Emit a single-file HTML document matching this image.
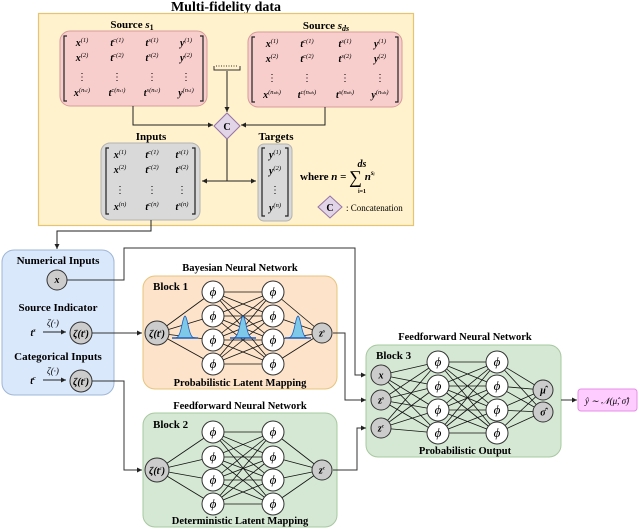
<!DOCTYPE html>
<html><head><meta charset="utf-8"><style>
html,body{margin:0;padding:0;background:#fff}
svg{display:block}
text{font-family:"Liberation Serif",serif}
.b{font-weight:bold}
.m{font-style:italic;font-weight:bold;font-size:10px}
</style></head><body>
<svg id="s" width="640" height="529" viewBox="0 0 640 529" xmlns="http://www.w3.org/2000/svg">
<defs>
<marker id="a" markerWidth="6" markerHeight="6" refX="5" refY="3" orient="auto" markerUnits="userSpaceOnUse"><path d="M0,0.5 L5,3 L0,5.5 z" fill="#222"/></marker>
</defs>
<text x="226" y="11" text-anchor="middle" class="b" font-size="14">Multi-fidelity data</text>
<rect x="38.5" y="13.5" width="375" height="212" fill="#fff2cc" stroke="#e6c472" stroke-width="1.2"/>
<rect x="60" y="31" width="147" height="75" rx="10" fill="#f8cecc" stroke="#d79b9b"/>
<rect x="248" y="32" width="154" height="75" rx="10" fill="#f8cecc" stroke="#d79b9b"/>
<rect x="101" y="143" width="99" height="77" rx="9" fill="#d9d9d9" stroke="#b3b3b3"/>
<rect x="258" y="144" width="34" height="77" rx="6" fill="#d9d9d9" stroke="#b3b3b3"/>
<text x="132" y="28" text-anchor="middle" class="b" font-size="11">Source <tspan font-style="italic">s</tspan><tspan font-size="8" dy="2">1</tspan></text>
<text x="326" y="29" text-anchor="middle" class="b" font-size="11">Source <tspan font-style="italic">s</tspan><tspan font-size="8" dy="2" font-style="italic">ds</tspan></text>
<g id="mats"></g>
<path d="M214,66 v4 h26 v-4" fill="none" stroke="#333"/>
<path d="M216,66 h22" stroke="#333" stroke-dasharray="1,1.5"/>
<path d="M227,71 V112" stroke="#222" fill="none" marker-end="url(#a)"/>
<path d="M133,106 V125 H213" stroke="#222" fill="none" marker-end="url(#a)"/>
<path d="M325,107 V125 H241" stroke="#222" fill="none" marker-end="url(#a)"/>
<path d="M227,113 L240,126 L227,139 L214,126 z" fill="#e1d5e7" stroke="#9673a6"/>
<text x="227" y="130" text-anchor="middle" class="b" font-size="10">C</text>
<path d="M227,139 V181" stroke="#222"/>
<path d="M227,181 H202" stroke="#222" marker-end="url(#a)"/>
<path d="M227,181 H256" stroke="#222" marker-end="url(#a)"/>
<text x="151" y="140" text-anchor="middle" class="b" font-size="11">Inputs</text>
<text x="276" y="140" text-anchor="middle" class="b" font-size="11">Targets</text>
<text x="300" y="180" class="b" font-size="11">where <tspan font-style="italic">n</tspan> = <tspan font-size="18" font-weight="normal" dy="3">∑</tspan><tspan font-style="italic" dy="-3"> n</tspan><tspan font-size="7" dy="-5" font-style="italic">sᵢ</tspan></text>
<text x="362" y="167" class="m" font-size="6" text-anchor="middle">ds</text>
<text x="362" y="193" font-size="6" class="b" text-anchor="middle">i=1</text>
<path d="M330,196 L342,207 L330,218 L318,207 z" fill="#e1d5e7" stroke="#9673a6"/>
<text x="330" y="211" text-anchor="middle" class="b" font-size="10">C</text>
<text x="346" y="211" font-size="9">: Concatenation</text>
<path d="M151,220 V231 H57 V249" stroke="#222" fill="none" marker-end="url(#a)"/>
<rect x="2" y="250" width="112" height="145" rx="12" fill="#dae8fc" stroke="#9fb6d6"/>
<text x="58" y="264" text-anchor="middle" class="b" font-size="11">Numerical Inputs</text>
<text x="58" y="311" text-anchor="middle" class="b" font-size="11">Source Indicator</text>
<text x="58" y="360" text-anchor="middle" class="b" font-size="11">Categorical Inputs</text>
<circle cx="57" cy="280" r="10" fill="#cccccc" stroke="#333"/>
<text x="57" y="283" text-anchor="middle" class="m" font-size="9">x</text>
<text x="33" y="336" text-anchor="middle" class="m">t<tspan font-size="6" dy="-4">s</tspan></text>
<text x="53" y="326" text-anchor="middle" font-size="9" font-style="italic">ζ(·)</text>
<path d="M43,332 H66" stroke="#222" marker-end="url(#a)"/>
<circle cx="81" cy="333" r="11" fill="#cccccc" stroke="#333"/>
<text x="81" y="337" text-anchor="middle" class="m" font-size="9">ζ(t<tspan font-size="5" dy="-4">s</tspan><tspan dy="4">)</tspan></text>
<text x="33" y="384" text-anchor="middle" class="m">t<tspan font-size="6" dy="-4">c</tspan></text>
<text x="53" y="374" text-anchor="middle" font-size="9" font-style="italic">ζ(·)</text>
<path d="M43,380 H66" stroke="#222" marker-end="url(#a)"/>
<circle cx="81" cy="381" r="11" fill="#cccccc" stroke="#333"/>
<text x="81" y="385" text-anchor="middle" class="m" font-size="9">ζ(t<tspan font-size="5" dy="-4">c</tspan><tspan dy="4">)</tspan></text>
<path d="M67,280 H124 V248 H355 V375 H366" stroke="#333" fill="none" marker-end="url(#a)"/>
<path d="M92,333 H142" stroke="#333" fill="none" marker-end="url(#a)"/>
<path d="M92,381 H124 V470 H142" stroke="#333" fill="none" marker-end="url(#a)"/>
<text x="240" y="271" text-anchor="middle" class="b" font-size="10.5">Bayesian Neural Network</text>
<rect x="143" y="276" width="194" height="113" rx="12" fill="#fce3c9" stroke="#e8c47d"/>
<text x="153" y="290" class="b" font-size="11">Block 1</text>
<text x="240" y="386" text-anchor="middle" class="b" font-size="10.5">Probabilistic Latent Mapping</text>
<text x="240" y="409" text-anchor="middle" class="b" font-size="10.5">Feedforward Neural Network</text>
<rect x="143" y="413" width="194" height="114" rx="12" fill="#d5e8d4" stroke="#a7c89f"/>
<text x="153" y="428" class="b" font-size="11">Block 2</text>
<text x="240" y="524" text-anchor="middle" class="b" font-size="10.5">Deterministic Latent Mapping</text>
<text x="465" y="340" text-anchor="middle" class="b" font-size="10.5">Feedforward Neural Network</text>
<rect x="366" y="345" width="195" height="112" rx="12" fill="#d5e8d4" stroke="#a7c89f"/>
<text x="376" y="359" class="b" font-size="11">Block 3</text>
<text x="465" y="454" text-anchor="middle" class="b" font-size="10.5">Probabilistic Output</text>
<path d="M333,333 H345 V400 H366" stroke="#333" fill="none" marker-end="url(#a)"/>
<path d="M333,470 H357 V428 H366" stroke="#333" fill="none" marker-end="url(#a)"/>
<path d="M561,400 H577" stroke="#333" fill="none" marker-end="url(#a)"/>
<rect x="578" y="389" width="59" height="22" rx="3" fill="#ffccff" stroke="#e58fe5"/>
<text x="607" y="404" text-anchor="middle" font-size="9" font-style="italic">ŷ ∼ 𝒩(μ̂, σ̂)</text>
<g id="net"></g>
</svg>
<script>
var N='http://www.w3.org/2000/svg';
function el(p,t,a,txt){var e=document.createElementNS(N,t);for(var k in a)e.setAttribute(k,a[k]);if(txt!=null)e.innerHTML=txt;p.appendChild(e);return e;}
var M=document.getElementById('mats');
function bracket(x1,x2,y1,y2){el(M,'path',{d:'M'+(x1+3)+','+y1+' h-3 v'+(y2-y1)+' h3 M'+(x2-3)+','+y1+' h3 v'+(y2-y1)+' h-3',fill:'none',stroke:'#222','stroke-width':1.2});}
function mat(cols,xs,ys,last,bx1,bx2,by1,by2){
 bracket(bx1,bx2,by1,by2);
 var sup=['(1)','(2)','',last];
 for(var r=0;r<4;r++)for(var c=0;c<cols.length;c++){
  if(r==2){el(M,'text',{x:xs[c],y:ys[r],'text-anchor':'middle','font-size':10},'⋮');continue;}
  el(M,'text',{x:xs[c],y:ys[r],'text-anchor':'middle',class:'m'},cols[c][0]+'<tspan font-size="6.5" dy="-4" font-weight="normal">'+cols[c][1]+sup[r]+'</tspan>');
 }
}
var c4=[['x',''],['t','c'],['t','s'],['y','']];
mat(c4,[82,117,152,186],[46,61,80,96],'(n<tspan font-size="4">s1</tspan>)',64,203,36,101);
mat(c4,[272,307,345,380],[47,62,81,98],'(n<tspan font-size="4">sds</tspan>)',252,398,37,102);
mat(c4.slice(0,3),[120,152,182],[158,173,193,210],'(n)',106,195,148,214);
mat([['y','']],[275],[158,174,193,211],'(n)',262,288,148,216);
var G=document.getElementById('net');
function net(layers,gauss){
 for(var i=0;i<layers.length-1;i++)layers[i].n.forEach(function(a){layers[i+1].n.forEach(function(b){el(G,'line',{x1:a[0],y1:a[1],x2:b[0],y2:b[1],stroke:'#111','stroke-width':0.8});});});
 (gauss||[]).forEach(function(g){var x=g[0],y=g[1],d='M'+(x-12)+','+y;for(var t=-12;t<=12;t++){d+=' L'+(x+t)+','+(y-22*Math.exp(-t*t/18)).toFixed(1);}el(G,'path',{d:d+' z',fill:'#7ec8e8',stroke:'#1f5fbf','stroke-width':0.8});el(G,'line',{x1:x-13,y1:y,x2:x+13,y2:y,stroke:'#1f5fbf','stroke-width':1.5});});
 layers.forEach(function(L){L.n.forEach(function(p,j){el(G,'circle',{cx:p[0],cy:p[1],r:L.r,fill:L.f,stroke:'#333','stroke-width':1});el(G,'text',{x:p[0],y:p[1]+(L.r>10?4:3.5),'text-anchor':'middle',class:'m','font-size':L.fs},L.t[j]||L.t[0]);});});
}
function col(x,ys){return ys.map(function(y){return [x,y];});}
var ph='<tspan font-size="13" font-weight="normal">ϕ</tspan>';
var h1=[292,316,340,364],h2=[432,457,480,504];
net([{n:[[157,333]],r:12,f:'#cccccc',t:['ζ(t<tspan font-size="5" dy="-4">s</tspan><tspan dy="4">)</tspan>'],fs:9},
 {n:col(213,h1),r:11,f:'#fff',t:[ph],fs:10},{n:col(273,h1),r:11,f:'#fff',t:[ph],fs:10},
 {n:[[322,333]],r:10,f:'#cccccc',t:['z<tspan font-size="5" dy="-4">s</tspan>'],fs:9}],[[185,338],[243,338],[298,338]]);
net([{n:[[157,470]],r:12,f:'#cccccc',t:['ζ(t<tspan font-size="5" dy="-4">c</tspan><tspan dy="4">)</tspan>'],fs:9},
 {n:col(213,h2),r:11,f:'#fff',t:[ph],fs:10},{n:col(273,h2),r:11,f:'#fff',t:[ph],fs:10},
 {n:[[322,470]],r:10,f:'#cccccc',t:['z<tspan font-size="5" dy="-4">c</tspan>'],fs:9}]);
var h3=[362,386,410,433];
net([{n:col(381,[375,400,428]),r:10,f:'#cccccc',t:['x','z<tspan font-size="5" dy="-4">s</tspan>','z<tspan font-size="5" dy="-4">c</tspan>'],fs:9},
 {n:col(438,h3),r:11,f:'#fff',t:[ph],fs:10},{n:col(497,h3),r:11,f:'#fff',t:[ph],fs:10},
 {n:col(543,[390,412]),r:10,f:'#cccccc',t:['μ̂','σ̂'],fs:9}]);
</script>
</body></html>
